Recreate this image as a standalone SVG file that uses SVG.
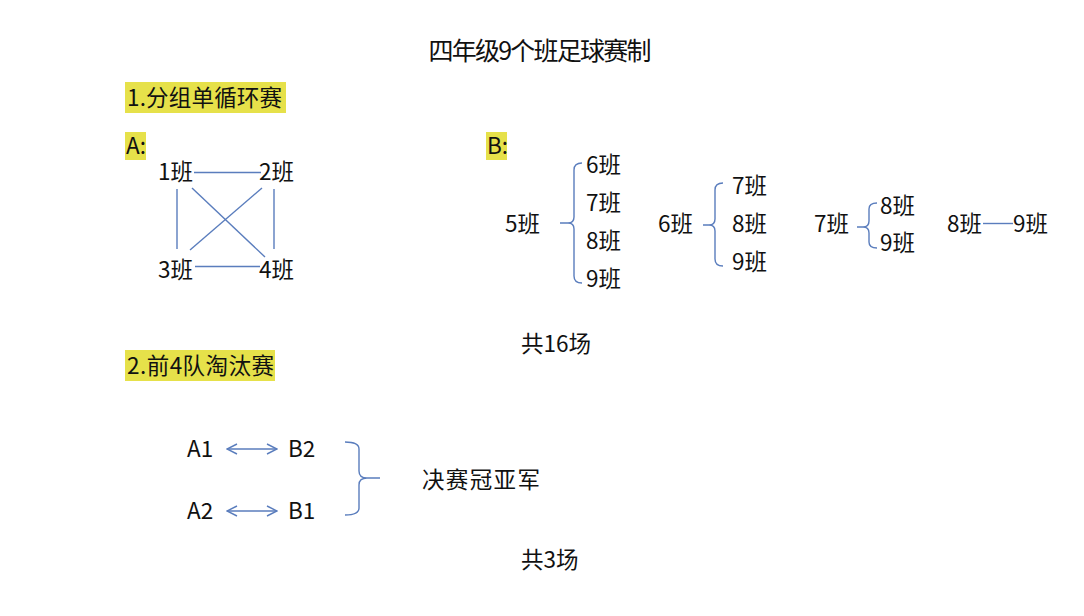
<svg xmlns="http://www.w3.org/2000/svg" width="1084" height="616" viewBox="0 0 1084 616">
<defs>
<style>
text{font-family:"Noto Sans CJK SC","Noto Sans",sans-serif;font-size:22.5px;fill:#111}
.ln{stroke:#5a7dbd;stroke-width:1.4;fill:none}
.hl{fill:#e6e14a}
</style>
<marker id="ah" viewBox="0 0 12 12" refX="11" refY="6" markerWidth="12" markerHeight="12" markerUnits="userSpaceOnUse" orient="auto-start-reverse">
<path d="M1,1 L11,6 L1,11" fill="none" stroke="#5a7dbd" stroke-width="1.4"/>
</marker>
</defs>
<rect width="1084" height="616" fill="#fff"/>
<g id="title"><text x="540" y="60" text-anchor="middle" style="font-size:25px" textLength="223">四年级9个班足球赛制</text></g>
<g id="section1"><rect class="hl" x="125" y="82" width="161" height="31"/><text x="127" y="106" textLength="155">1.分组单循环赛</text></g>
<g id="labelA"><rect class="hl" x="125" y="132" width="21" height="28"/><text x="126" y="154">A:</text></g>
<g id="labelB"><rect class="hl" x="486" y="132" width="21" height="28"/><text x="487" y="154">B:</text></g>
<g id="section2"><rect class="hl" x="125" y="350" width="150" height="31"/><text x="127" y="374" textLength="147">2.前4队淘汰赛</text></g>
<g id="connectors">
<line class="ln" x1="194" y1="172.5" x2="261" y2="172.5"/>
<line class="ln" x1="195" y1="266.5" x2="260" y2="266.5"/>
<line class="ln" x1="177" y1="189" x2="177" y2="249"/>
<line class="ln" x1="274" y1="189" x2="274" y2="249"/>
<line class="ln" x1="192" y1="188" x2="265" y2="257"/>
<line class="ln" x1="262" y1="188" x2="190" y2="250"/>
<path class="ln" d="M582,163 Q574,163 574,170 L574,217 Q574,223 568,223 L560,223 M568,223 Q574,223 574,229 L574,276 Q574,283 582,283"/>
<path class="ln" d="M723,183 Q715,183 715,190 L715,219 Q715,225 709,225 L703,225 M709,225 Q715,225 715,231 L715,259 Q715,266 723,266"/>
<path class="ln" d="M877,203 Q869,203 869,209 L869,221 Q869,227 863,227 L857,227 M863,227 Q869,227 869,233 L869,242 Q869,248 877,248"/>
<line class="ln" x1="983" y1="223.5" x2="1013" y2="223.5"/>
<line class="ln" x1="227" y1="449" x2="277" y2="449" marker-start="url(#ah)" marker-end="url(#ah)"/>
<line class="ln" x1="227" y1="511" x2="277" y2="511" marker-start="url(#ah)" marker-end="url(#ah)"/>
<path class="ln" d="M345,442 Q359,442 359,449 L359,471 Q359,478 367,478 L380,478 M367,478 Q359,478 359,485 L359,508 Q359,515 345,515"/>
</g>
<g id="n1"><text x="158" y="180">1班</text></g>
<g id="n2"><text x="259" y="180">2班</text></g>
<g id="n3"><text x="158" y="278">3班</text></g>
<g id="n4"><text x="259" y="278">4班</text></g>
<g id="b5"><text x="505" y="232">5班</text></g>
<g id="b5-6"><text x="586" y="173">6班</text></g>
<g id="b5-7"><text x="586" y="211">7班</text></g>
<g id="b5-8"><text x="586" y="249">8班</text></g>
<g id="b5-9"><text x="586" y="287">9班</text></g>
<g id="b6"><text x="658" y="232">6班</text></g>
<g id="b6-7"><text x="732" y="194">7班</text></g>
<g id="b6-8"><text x="732" y="232">8班</text></g>
<g id="b6-9"><text x="732" y="270">9班</text></g>
<g id="b7"><text x="814" y="232">7班</text></g>
<g id="b7-8"><text x="880" y="214">8班</text></g>
<g id="b7-9"><text x="880" y="251">9班</text></g>
<g id="b8"><text x="947" y="232">8班</text></g>
<g id="b8-9"><text x="1013" y="232">9班</text></g>
<g id="total1"><text x="521" y="352">共16场</text></g>
<g id="a1"><text x="187" y="457">A1</text></g>
<g id="b2"><text x="288" y="457">B2</text></g>
<g id="a2"><text x="187" y="519">A2</text></g>
<g id="b1"><text x="288" y="519">B1</text></g>
<g id="final"><text x="422" y="488" textLength="118">决赛冠亚军</text></g>
<g id="total2"><text x="521" y="568">共3场</text></g>
</svg>
